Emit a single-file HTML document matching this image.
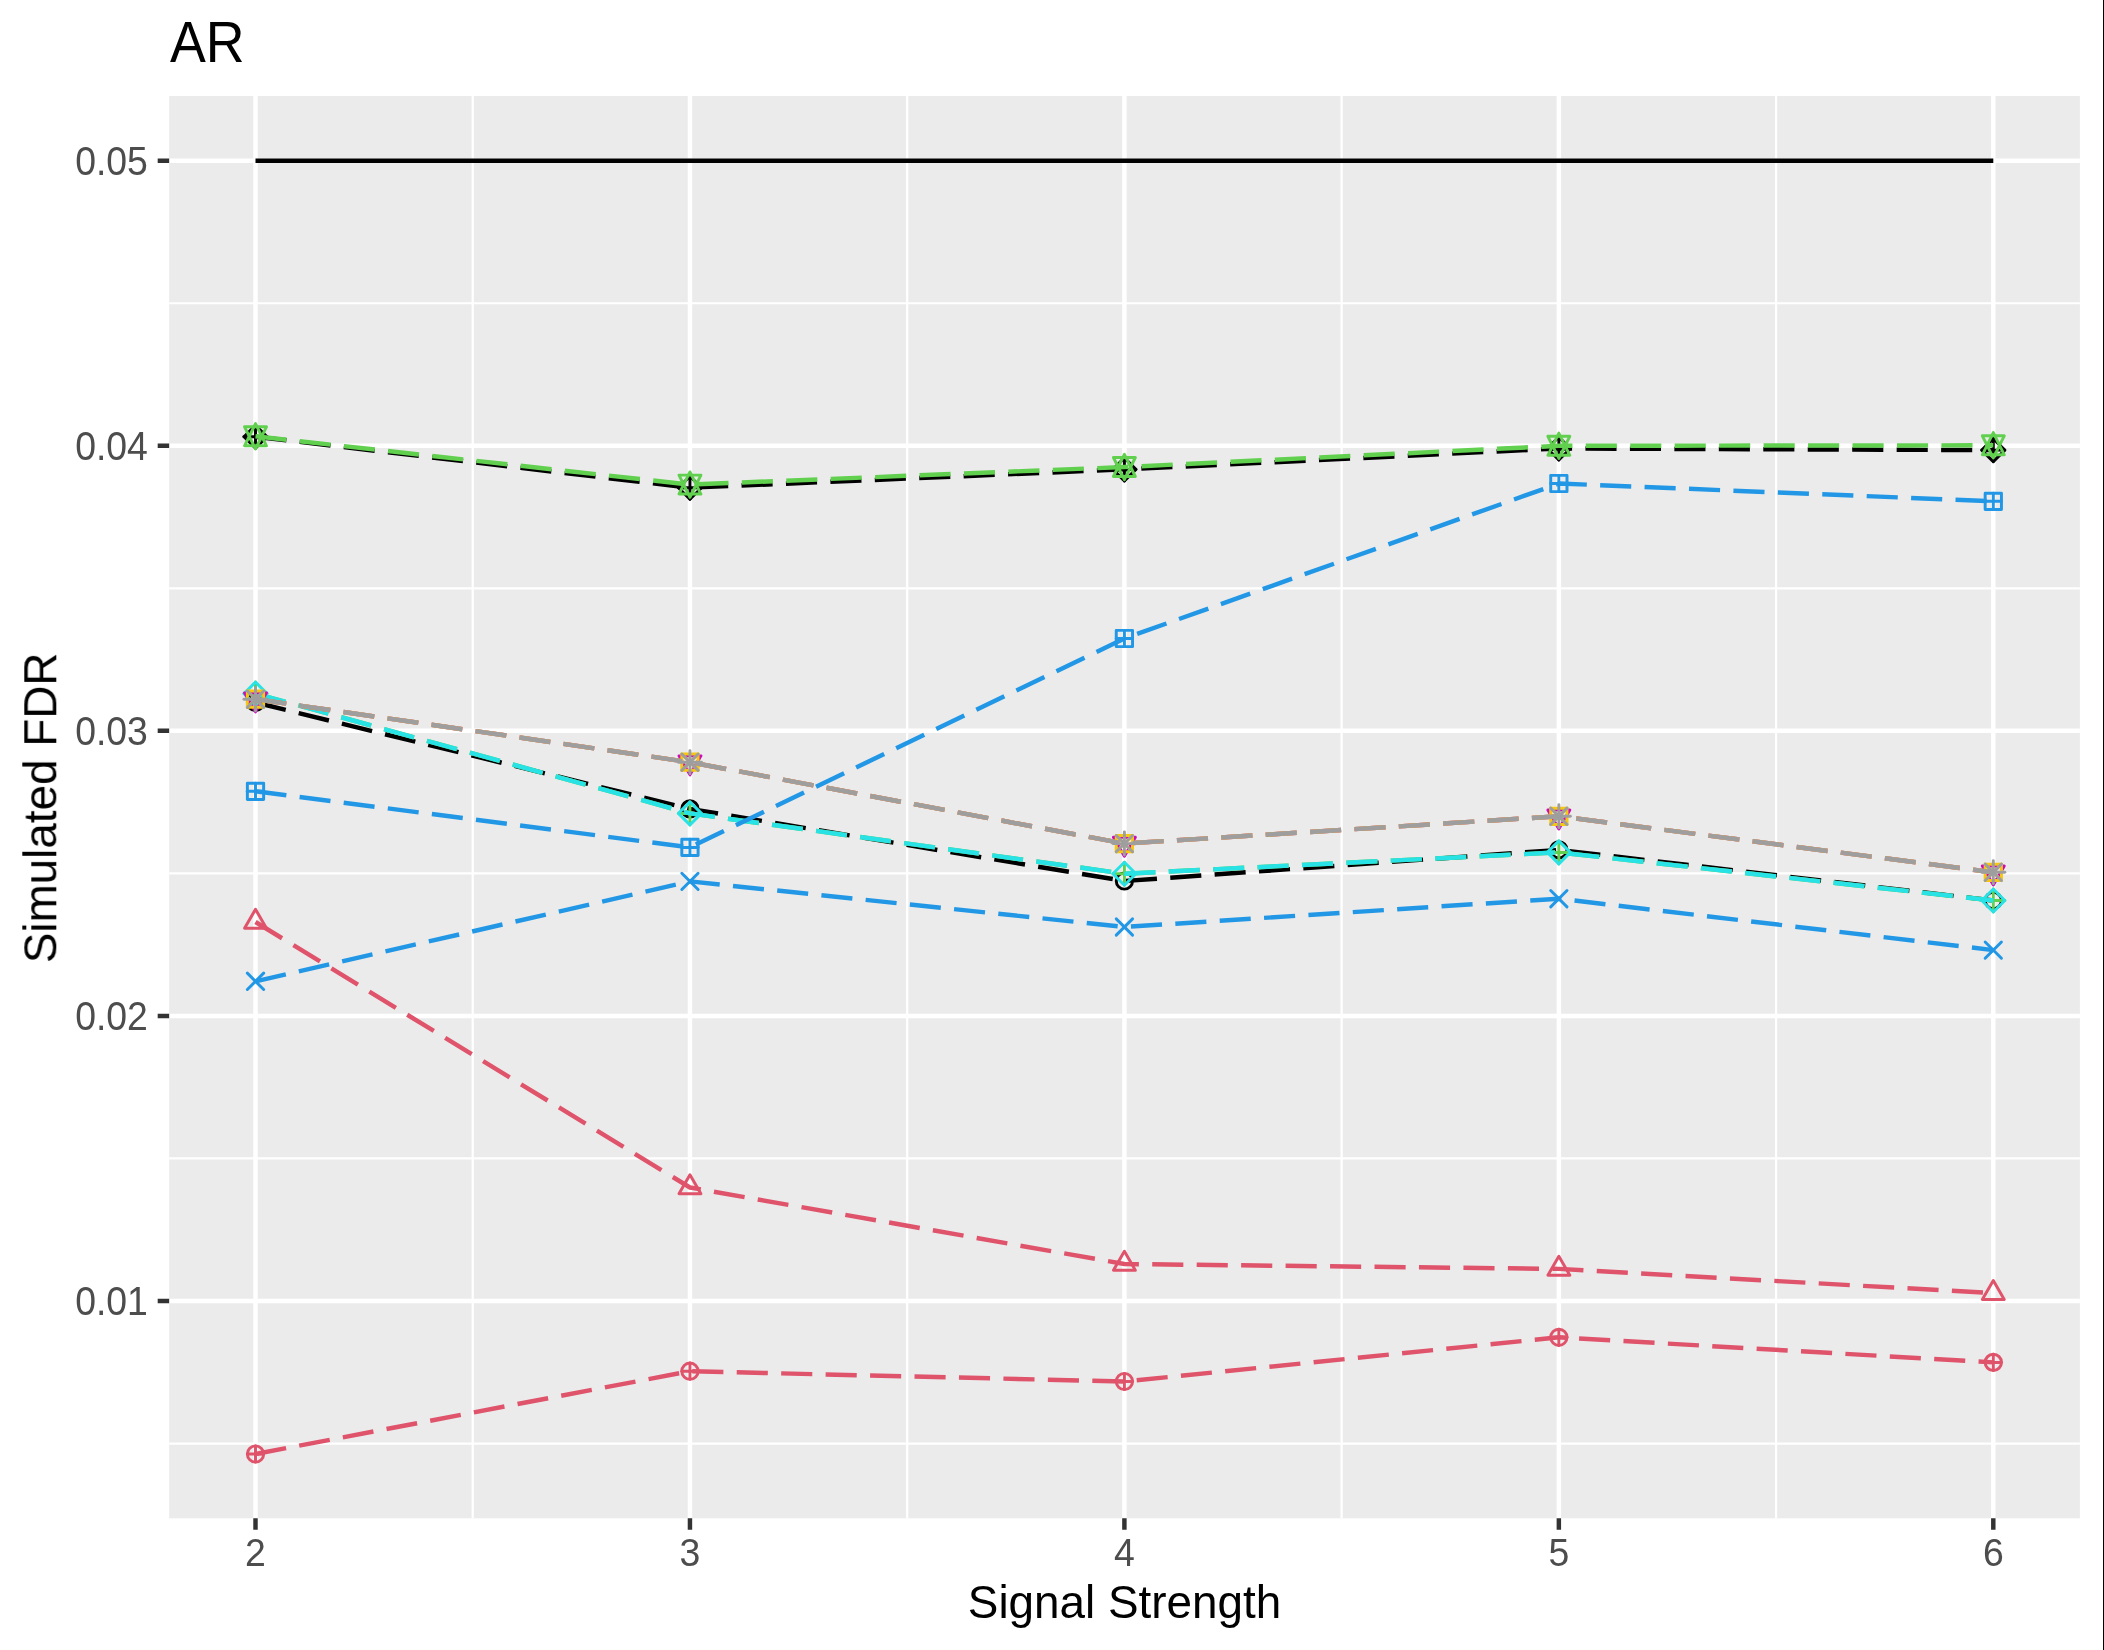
<!DOCTYPE html>
<html><head><meta charset="utf-8"><title>AR</title><style>html,body{margin:0;padding:0;background:#fff}svg{display:block}</style></head><body><svg width="2104" height="1650" viewBox="0 0 2104 1650">
<rect x="0" y="0" width="2104" height="1650" fill="#FFFFFF"/>
<rect x="169.15" y="96" width="1910.75" height="1422.3" fill="#EBEBEB"/>
<path d="M169.15 303.24H2079.9M169.15 588.31H2079.9M169.15 873.38H2079.9M169.15 1158.44H2079.9M169.15 1443.52H2079.9M472.73 96V1518.3M907.18 96V1518.3M1341.62 96V1518.3M1776.07 96V1518.3" stroke="#FFFFFF" stroke-width="2.22" fill="none"/>
<path d="M169.15 160.7H2079.9M169.15 445.77H2079.9M169.15 730.84H2079.9M169.15 1015.91H2079.9M169.15 1300.98H2079.9M255.5 96V1518.3M689.95 96V1518.3M1124.4 96V1518.3M1558.85 96V1518.3M1993.3 96V1518.3" stroke="#FFFFFF" stroke-width="4.45" fill="none"/>
<polyline points="255.5,702.5 689.95,808.9 1124.4,881 1558.85,849.9 1993.3,900.5" fill="none" stroke="#000000" stroke-width="4.45" stroke-dasharray="31.12 13.34" stroke-linejoin="round"/>
<circle cx="255.5" cy="702.5" r="8.14" fill="none" stroke="#000000" stroke-width="2.95" stroke-linecap="round" stroke-linejoin="round"/>
<circle cx="689.95" cy="808.9" r="8.14" fill="none" stroke="#000000" stroke-width="2.95" stroke-linecap="round" stroke-linejoin="round"/>
<circle cx="1124.4" cy="881" r="8.14" fill="none" stroke="#000000" stroke-width="2.95" stroke-linecap="round" stroke-linejoin="round"/>
<circle cx="1558.85" cy="849.9" r="8.14" fill="none" stroke="#000000" stroke-width="2.95" stroke-linecap="round" stroke-linejoin="round"/>
<circle cx="1993.3" cy="900.5" r="8.14" fill="none" stroke="#000000" stroke-width="2.95" stroke-linecap="round" stroke-linejoin="round"/>
<polyline points="255.5,922 689.95,1187.5 1124.4,1264 1558.85,1268.9 1993.3,1293.1" fill="none" stroke="#DF536B" stroke-width="4.45" stroke-dasharray="31.12 13.34" stroke-linejoin="round"/>
<path d="M255.5 909.34L266.46 928.33L244.54 928.33Z" fill="none" stroke="#DF536B" stroke-width="2.95" stroke-linecap="round" stroke-linejoin="round"/>
<path d="M689.95 1174.84L700.91 1193.83L678.99 1193.83Z" fill="none" stroke="#DF536B" stroke-width="2.95" stroke-linecap="round" stroke-linejoin="round"/>
<path d="M1124.4 1251.34L1135.36 1270.33L1113.44 1270.33Z" fill="none" stroke="#DF536B" stroke-width="2.95" stroke-linecap="round" stroke-linejoin="round"/>
<path d="M1558.85 1256.24L1569.81 1275.23L1547.89 1275.23Z" fill="none" stroke="#DF536B" stroke-width="2.95" stroke-linecap="round" stroke-linejoin="round"/>
<path d="M1993.3 1280.44L2004.26 1299.43L1982.34 1299.43Z" fill="none" stroke="#DF536B" stroke-width="2.95" stroke-linecap="round" stroke-linejoin="round"/>
<polyline points="255.5,693.6 689.95,813.4 1124.4,873.7 1558.85,852.4 1993.3,900.5" fill="none" stroke="#61D04F" stroke-width="4.45" stroke-dasharray="31.12 13.34" stroke-linejoin="round"/>
<path d="M243.99 693.6L267.01 693.6" fill="none" stroke="#61D04F" stroke-width="2.95" stroke-linecap="round" stroke-linejoin="round"/><path d="M255.5 682.09L255.5 705.11" fill="none" stroke="#61D04F" stroke-width="2.95" stroke-linecap="round" stroke-linejoin="round"/>
<path d="M678.44 813.4L701.46 813.4" fill="none" stroke="#61D04F" stroke-width="2.95" stroke-linecap="round" stroke-linejoin="round"/><path d="M689.95 801.89L689.95 824.91" fill="none" stroke="#61D04F" stroke-width="2.95" stroke-linecap="round" stroke-linejoin="round"/>
<path d="M1112.89 873.7L1135.91 873.7" fill="none" stroke="#61D04F" stroke-width="2.95" stroke-linecap="round" stroke-linejoin="round"/><path d="M1124.4 862.19L1124.4 885.21" fill="none" stroke="#61D04F" stroke-width="2.95" stroke-linecap="round" stroke-linejoin="round"/>
<path d="M1547.34 852.4L1570.36 852.4" fill="none" stroke="#61D04F" stroke-width="2.95" stroke-linecap="round" stroke-linejoin="round"/><path d="M1558.85 840.89L1558.85 863.91" fill="none" stroke="#61D04F" stroke-width="2.95" stroke-linecap="round" stroke-linejoin="round"/>
<path d="M1981.79 900.5L2004.81 900.5" fill="none" stroke="#61D04F" stroke-width="2.95" stroke-linecap="round" stroke-linejoin="round"/><path d="M1993.3 888.99L1993.3 912.01" fill="none" stroke="#61D04F" stroke-width="2.95" stroke-linecap="round" stroke-linejoin="round"/>
<polyline points="255.5,981.3 689.95,881.4 1124.4,927 1558.85,898.7 1993.3,950.1" fill="none" stroke="#2297E6" stroke-width="4.45" stroke-dasharray="31.12 13.34" stroke-linejoin="round"/>
<path d="M247.36 973.16L263.64 989.44" fill="none" stroke="#2297E6" stroke-width="2.95" stroke-linecap="round" stroke-linejoin="round"/><path d="M247.36 989.44L263.64 973.16" fill="none" stroke="#2297E6" stroke-width="2.95" stroke-linecap="round" stroke-linejoin="round"/>
<path d="M681.81 873.26L698.09 889.54" fill="none" stroke="#2297E6" stroke-width="2.95" stroke-linecap="round" stroke-linejoin="round"/><path d="M681.81 889.54L698.09 873.26" fill="none" stroke="#2297E6" stroke-width="2.95" stroke-linecap="round" stroke-linejoin="round"/>
<path d="M1116.26 918.86L1132.54 935.14" fill="none" stroke="#2297E6" stroke-width="2.95" stroke-linecap="round" stroke-linejoin="round"/><path d="M1116.26 935.14L1132.54 918.86" fill="none" stroke="#2297E6" stroke-width="2.95" stroke-linecap="round" stroke-linejoin="round"/>
<path d="M1550.71 890.56L1566.99 906.84" fill="none" stroke="#2297E6" stroke-width="2.95" stroke-linecap="round" stroke-linejoin="round"/><path d="M1550.71 906.84L1566.99 890.56" fill="none" stroke="#2297E6" stroke-width="2.95" stroke-linecap="round" stroke-linejoin="round"/>
<path d="M1985.16 941.96L2001.44 958.24" fill="none" stroke="#2297E6" stroke-width="2.95" stroke-linecap="round" stroke-linejoin="round"/><path d="M1985.16 958.24L2001.44 941.96" fill="none" stroke="#2297E6" stroke-width="2.95" stroke-linecap="round" stroke-linejoin="round"/>
<polyline points="255.5,693.6 689.95,813.4 1124.4,873.7 1558.85,852.4 1993.3,900.5" fill="none" stroke="#28E2E5" stroke-width="4.45" stroke-dasharray="31.12 13.34" stroke-linejoin="round"/>
<path d="M243.99 693.6L255.5 682.09L267.01 693.6L255.5 705.11Z" fill="none" stroke="#28E2E5" stroke-width="2.95" stroke-linecap="round" stroke-linejoin="round"/>
<path d="M678.44 813.4L689.95 801.89L701.46 813.4L689.95 824.91Z" fill="none" stroke="#28E2E5" stroke-width="2.95" stroke-linecap="round" stroke-linejoin="round"/>
<path d="M1112.89 873.7L1124.4 862.19L1135.91 873.7L1124.4 885.21Z" fill="none" stroke="#28E2E5" stroke-width="2.95" stroke-linecap="round" stroke-linejoin="round"/>
<path d="M1547.34 852.4L1558.85 840.89L1570.36 852.4L1558.85 863.91Z" fill="none" stroke="#28E2E5" stroke-width="2.95" stroke-linecap="round" stroke-linejoin="round"/>
<path d="M1981.79 900.5L1993.3 888.99L2004.81 900.5L1993.3 912.01Z" fill="none" stroke="#28E2E5" stroke-width="2.95" stroke-linecap="round" stroke-linejoin="round"/>
<polyline points="255.5,699.2 689.95,762.2 1124.4,843.6 1558.85,816.3 1993.3,872.3" fill="none" stroke="#CD0BBC" stroke-width="4.45" stroke-dasharray="31.12 13.34" stroke-linejoin="round"/>
<path d="M255.5 711.86L266.46 692.87L244.54 692.87Z" fill="none" stroke="#CD0BBC" stroke-width="2.95" stroke-linecap="round" stroke-linejoin="round"/>
<path d="M689.95 774.86L700.91 755.87L678.99 755.87Z" fill="none" stroke="#CD0BBC" stroke-width="2.95" stroke-linecap="round" stroke-linejoin="round"/>
<path d="M1124.4 856.26L1135.36 837.27L1113.44 837.27Z" fill="none" stroke="#CD0BBC" stroke-width="2.95" stroke-linecap="round" stroke-linejoin="round"/>
<path d="M1558.85 828.96L1569.81 809.97L1547.89 809.97Z" fill="none" stroke="#CD0BBC" stroke-width="2.95" stroke-linecap="round" stroke-linejoin="round"/>
<path d="M1993.3 884.96L2004.26 865.97L1982.34 865.97Z" fill="none" stroke="#CD0BBC" stroke-width="2.95" stroke-linecap="round" stroke-linejoin="round"/>
<polyline points="255.5,699.2 689.95,762.2 1124.4,843.6 1558.85,816.3 1993.3,872.3" fill="none" stroke="#F5C710" stroke-width="4.45" stroke-dasharray="31.12 13.34" stroke-linejoin="round"/>
<path d="M247.36 691.06L263.64 707.34" fill="none" stroke="#F5C710" stroke-width="2.95" stroke-linecap="round" stroke-linejoin="round"/><path d="M247.36 707.34L263.64 691.06" fill="none" stroke="#F5C710" stroke-width="2.95" stroke-linecap="round" stroke-linejoin="round"/><path d="M247.36 691.06L263.64 691.06L263.64 707.34L247.36 707.34Z" fill="none" stroke="#F5C710" stroke-width="2.95" stroke-linecap="round" stroke-linejoin="round"/>
<path d="M681.81 754.06L698.09 770.34" fill="none" stroke="#F5C710" stroke-width="2.95" stroke-linecap="round" stroke-linejoin="round"/><path d="M681.81 770.34L698.09 754.06" fill="none" stroke="#F5C710" stroke-width="2.95" stroke-linecap="round" stroke-linejoin="round"/><path d="M681.81 754.06L698.09 754.06L698.09 770.34L681.81 770.34Z" fill="none" stroke="#F5C710" stroke-width="2.95" stroke-linecap="round" stroke-linejoin="round"/>
<path d="M1116.26 835.46L1132.54 851.74" fill="none" stroke="#F5C710" stroke-width="2.95" stroke-linecap="round" stroke-linejoin="round"/><path d="M1116.26 851.74L1132.54 835.46" fill="none" stroke="#F5C710" stroke-width="2.95" stroke-linecap="round" stroke-linejoin="round"/><path d="M1116.26 835.46L1132.54 835.46L1132.54 851.74L1116.26 851.74Z" fill="none" stroke="#F5C710" stroke-width="2.95" stroke-linecap="round" stroke-linejoin="round"/>
<path d="M1550.71 808.16L1566.99 824.44" fill="none" stroke="#F5C710" stroke-width="2.95" stroke-linecap="round" stroke-linejoin="round"/><path d="M1550.71 824.44L1566.99 808.16" fill="none" stroke="#F5C710" stroke-width="2.95" stroke-linecap="round" stroke-linejoin="round"/><path d="M1550.71 808.16L1566.99 808.16L1566.99 824.44L1550.71 824.44Z" fill="none" stroke="#F5C710" stroke-width="2.95" stroke-linecap="round" stroke-linejoin="round"/>
<path d="M1985.16 864.16L2001.44 880.44" fill="none" stroke="#F5C710" stroke-width="2.95" stroke-linecap="round" stroke-linejoin="round"/><path d="M1985.16 880.44L2001.44 864.16" fill="none" stroke="#F5C710" stroke-width="2.95" stroke-linecap="round" stroke-linejoin="round"/><path d="M1985.16 864.16L2001.44 864.16L2001.44 880.44L1985.16 880.44Z" fill="none" stroke="#F5C710" stroke-width="2.95" stroke-linecap="round" stroke-linejoin="round"/>
<polyline points="255.5,699.2 689.95,762.2 1124.4,843.6 1558.85,816.3 1993.3,872.3" fill="none" stroke="#9E9E9E" stroke-width="4.45" stroke-dasharray="31.12 13.34" stroke-linejoin="round"/>
<path d="M247.36 691.06L263.64 707.34" fill="none" stroke="#9E9E9E" stroke-width="2.95" stroke-linecap="round" stroke-linejoin="round"/><path d="M247.36 707.34L263.64 691.06" fill="none" stroke="#9E9E9E" stroke-width="2.95" stroke-linecap="round" stroke-linejoin="round"/><path d="M243.99 699.2L267.01 699.2" fill="none" stroke="#9E9E9E" stroke-width="2.95" stroke-linecap="round" stroke-linejoin="round"/><path d="M255.5 687.69L255.5 710.71" fill="none" stroke="#9E9E9E" stroke-width="2.95" stroke-linecap="round" stroke-linejoin="round"/>
<path d="M681.81 754.06L698.09 770.34" fill="none" stroke="#9E9E9E" stroke-width="2.95" stroke-linecap="round" stroke-linejoin="round"/><path d="M681.81 770.34L698.09 754.06" fill="none" stroke="#9E9E9E" stroke-width="2.95" stroke-linecap="round" stroke-linejoin="round"/><path d="M678.44 762.2L701.46 762.2" fill="none" stroke="#9E9E9E" stroke-width="2.95" stroke-linecap="round" stroke-linejoin="round"/><path d="M689.95 750.69L689.95 773.71" fill="none" stroke="#9E9E9E" stroke-width="2.95" stroke-linecap="round" stroke-linejoin="round"/>
<path d="M1116.26 835.46L1132.54 851.74" fill="none" stroke="#9E9E9E" stroke-width="2.95" stroke-linecap="round" stroke-linejoin="round"/><path d="M1116.26 851.74L1132.54 835.46" fill="none" stroke="#9E9E9E" stroke-width="2.95" stroke-linecap="round" stroke-linejoin="round"/><path d="M1112.89 843.6L1135.91 843.6" fill="none" stroke="#9E9E9E" stroke-width="2.95" stroke-linecap="round" stroke-linejoin="round"/><path d="M1124.4 832.09L1124.4 855.11" fill="none" stroke="#9E9E9E" stroke-width="2.95" stroke-linecap="round" stroke-linejoin="round"/>
<path d="M1550.71 808.16L1566.99 824.44" fill="none" stroke="#9E9E9E" stroke-width="2.95" stroke-linecap="round" stroke-linejoin="round"/><path d="M1550.71 824.44L1566.99 808.16" fill="none" stroke="#9E9E9E" stroke-width="2.95" stroke-linecap="round" stroke-linejoin="round"/><path d="M1547.34 816.3L1570.36 816.3" fill="none" stroke="#9E9E9E" stroke-width="2.95" stroke-linecap="round" stroke-linejoin="round"/><path d="M1558.85 804.79L1558.85 827.81" fill="none" stroke="#9E9E9E" stroke-width="2.95" stroke-linecap="round" stroke-linejoin="round"/>
<path d="M1985.16 864.16L2001.44 880.44" fill="none" stroke="#9E9E9E" stroke-width="2.95" stroke-linecap="round" stroke-linejoin="round"/><path d="M1985.16 880.44L2001.44 864.16" fill="none" stroke="#9E9E9E" stroke-width="2.95" stroke-linecap="round" stroke-linejoin="round"/><path d="M1981.79 872.3L2004.81 872.3" fill="none" stroke="#9E9E9E" stroke-width="2.95" stroke-linecap="round" stroke-linejoin="round"/><path d="M1993.3 860.79L1993.3 883.81" fill="none" stroke="#9E9E9E" stroke-width="2.95" stroke-linecap="round" stroke-linejoin="round"/>
<polyline points="255.5,436.7 689.95,487.7 1124.4,469.4 1558.85,448.5 1993.3,450.1" fill="none" stroke="#000000" stroke-width="4.45" stroke-dasharray="31.12 13.34" stroke-linejoin="round"/>
<path d="M243.99 436.7L267.01 436.7" fill="none" stroke="#000000" stroke-width="2.95" stroke-linecap="round" stroke-linejoin="round"/><path d="M255.5 425.19L255.5 448.21" fill="none" stroke="#000000" stroke-width="2.95" stroke-linecap="round" stroke-linejoin="round"/><path d="M243.99 436.7L255.5 425.19L267.01 436.7L255.5 448.21Z" fill="none" stroke="#000000" stroke-width="2.95" stroke-linecap="round" stroke-linejoin="round"/>
<path d="M678.44 487.7L701.46 487.7" fill="none" stroke="#000000" stroke-width="2.95" stroke-linecap="round" stroke-linejoin="round"/><path d="M689.95 476.19L689.95 499.21" fill="none" stroke="#000000" stroke-width="2.95" stroke-linecap="round" stroke-linejoin="round"/><path d="M678.44 487.7L689.95 476.19L701.46 487.7L689.95 499.21Z" fill="none" stroke="#000000" stroke-width="2.95" stroke-linecap="round" stroke-linejoin="round"/>
<path d="M1112.89 469.4L1135.91 469.4" fill="none" stroke="#000000" stroke-width="2.95" stroke-linecap="round" stroke-linejoin="round"/><path d="M1124.4 457.89L1124.4 480.91" fill="none" stroke="#000000" stroke-width="2.95" stroke-linecap="round" stroke-linejoin="round"/><path d="M1112.89 469.4L1124.4 457.89L1135.91 469.4L1124.4 480.91Z" fill="none" stroke="#000000" stroke-width="2.95" stroke-linecap="round" stroke-linejoin="round"/>
<path d="M1547.34 448.5L1570.36 448.5" fill="none" stroke="#000000" stroke-width="2.95" stroke-linecap="round" stroke-linejoin="round"/><path d="M1558.85 436.99L1558.85 460.01" fill="none" stroke="#000000" stroke-width="2.95" stroke-linecap="round" stroke-linejoin="round"/><path d="M1547.34 448.5L1558.85 436.99L1570.36 448.5L1558.85 460.01Z" fill="none" stroke="#000000" stroke-width="2.95" stroke-linecap="round" stroke-linejoin="round"/>
<path d="M1981.79 450.1L2004.81 450.1" fill="none" stroke="#000000" stroke-width="2.95" stroke-linecap="round" stroke-linejoin="round"/><path d="M1993.3 438.59L1993.3 461.61" fill="none" stroke="#000000" stroke-width="2.95" stroke-linecap="round" stroke-linejoin="round"/><path d="M1981.79 450.1L1993.3 438.59L2004.81 450.1L1993.3 461.61Z" fill="none" stroke="#000000" stroke-width="2.95" stroke-linecap="round" stroke-linejoin="round"/>
<polyline points="255.5,1454 689.95,1371.2 1124.4,1381.5 1558.85,1337.3 1993.3,1362.4" fill="none" stroke="#DF536B" stroke-width="4.45" stroke-dasharray="31.12 13.34" stroke-linejoin="round"/>
<circle cx="255.5" cy="1454" r="8.14" fill="none" stroke="#DF536B" stroke-width="2.95" stroke-linecap="round" stroke-linejoin="round"/><path d="M247.36 1454L263.64 1454" fill="none" stroke="#DF536B" stroke-width="2.95" stroke-linecap="round" stroke-linejoin="round"/><path d="M255.5 1445.86L255.5 1462.14" fill="none" stroke="#DF536B" stroke-width="2.95" stroke-linecap="round" stroke-linejoin="round"/>
<circle cx="689.95" cy="1371.2" r="8.14" fill="none" stroke="#DF536B" stroke-width="2.95" stroke-linecap="round" stroke-linejoin="round"/><path d="M681.81 1371.2L698.09 1371.2" fill="none" stroke="#DF536B" stroke-width="2.95" stroke-linecap="round" stroke-linejoin="round"/><path d="M689.95 1363.06L689.95 1379.34" fill="none" stroke="#DF536B" stroke-width="2.95" stroke-linecap="round" stroke-linejoin="round"/>
<circle cx="1124.4" cy="1381.5" r="8.14" fill="none" stroke="#DF536B" stroke-width="2.95" stroke-linecap="round" stroke-linejoin="round"/><path d="M1116.26 1381.5L1132.54 1381.5" fill="none" stroke="#DF536B" stroke-width="2.95" stroke-linecap="round" stroke-linejoin="round"/><path d="M1124.4 1373.36L1124.4 1389.64" fill="none" stroke="#DF536B" stroke-width="2.95" stroke-linecap="round" stroke-linejoin="round"/>
<circle cx="1558.85" cy="1337.3" r="8.14" fill="none" stroke="#DF536B" stroke-width="2.95" stroke-linecap="round" stroke-linejoin="round"/><path d="M1550.71 1337.3L1566.99 1337.3" fill="none" stroke="#DF536B" stroke-width="2.95" stroke-linecap="round" stroke-linejoin="round"/><path d="M1558.85 1329.16L1558.85 1345.44" fill="none" stroke="#DF536B" stroke-width="2.95" stroke-linecap="round" stroke-linejoin="round"/>
<circle cx="1993.3" cy="1362.4" r="8.14" fill="none" stroke="#DF536B" stroke-width="2.95" stroke-linecap="round" stroke-linejoin="round"/><path d="M1985.16 1362.4L2001.44 1362.4" fill="none" stroke="#DF536B" stroke-width="2.95" stroke-linecap="round" stroke-linejoin="round"/><path d="M1993.3 1354.26L1993.3 1370.54" fill="none" stroke="#DF536B" stroke-width="2.95" stroke-linecap="round" stroke-linejoin="round"/>
<polyline points="255.5,436.3 689.95,484.6 1124.4,467 1558.85,445.8 1993.3,445.3" fill="none" stroke="#61D04F" stroke-width="4.45" stroke-dasharray="31.12 13.34" stroke-linejoin="round"/>
<path d="M255.5 423.64L266.46 445.79L244.54 445.79Z" fill="none" stroke="#61D04F" stroke-width="2.95" stroke-linecap="round" stroke-linejoin="round"/><path d="M255.5 448.96L266.46 426.81L244.54 426.81Z" fill="none" stroke="#61D04F" stroke-width="2.95" stroke-linecap="round" stroke-linejoin="round"/>
<path d="M689.95 471.94L700.91 494.09L678.99 494.09Z" fill="none" stroke="#61D04F" stroke-width="2.95" stroke-linecap="round" stroke-linejoin="round"/><path d="M689.95 497.26L700.91 475.11L678.99 475.11Z" fill="none" stroke="#61D04F" stroke-width="2.95" stroke-linecap="round" stroke-linejoin="round"/>
<path d="M1124.4 454.34L1135.36 476.49L1113.44 476.49Z" fill="none" stroke="#61D04F" stroke-width="2.95" stroke-linecap="round" stroke-linejoin="round"/><path d="M1124.4 479.66L1135.36 457.51L1113.44 457.51Z" fill="none" stroke="#61D04F" stroke-width="2.95" stroke-linecap="round" stroke-linejoin="round"/>
<path d="M1558.85 433.14L1569.81 455.29L1547.89 455.29Z" fill="none" stroke="#61D04F" stroke-width="2.95" stroke-linecap="round" stroke-linejoin="round"/><path d="M1558.85 458.46L1569.81 436.31L1547.89 436.31Z" fill="none" stroke="#61D04F" stroke-width="2.95" stroke-linecap="round" stroke-linejoin="round"/>
<path d="M1993.3 432.64L2004.26 454.79L1982.34 454.79Z" fill="none" stroke="#61D04F" stroke-width="2.95" stroke-linecap="round" stroke-linejoin="round"/><path d="M1993.3 457.96L2004.26 435.81L1982.34 435.81Z" fill="none" stroke="#61D04F" stroke-width="2.95" stroke-linecap="round" stroke-linejoin="round"/>
<polyline points="255.5,791.3 689.95,847.4 1124.4,638.5 1558.85,483.5 1993.3,501.3" fill="none" stroke="#2297E6" stroke-width="4.45" stroke-dasharray="31.12 13.34" stroke-linejoin="round"/>
<path d="M247.36 791.3L263.64 791.3" fill="none" stroke="#2297E6" stroke-width="2.95" stroke-linecap="round" stroke-linejoin="round"/><path d="M255.5 783.16L255.5 799.44" fill="none" stroke="#2297E6" stroke-width="2.95" stroke-linecap="round" stroke-linejoin="round"/><path d="M247.36 783.16L263.64 783.16L263.64 799.44L247.36 799.44Z" fill="none" stroke="#2297E6" stroke-width="2.95" stroke-linecap="round" stroke-linejoin="round"/>
<path d="M681.81 847.4L698.09 847.4" fill="none" stroke="#2297E6" stroke-width="2.95" stroke-linecap="round" stroke-linejoin="round"/><path d="M689.95 839.26L689.95 855.54" fill="none" stroke="#2297E6" stroke-width="2.95" stroke-linecap="round" stroke-linejoin="round"/><path d="M681.81 839.26L698.09 839.26L698.09 855.54L681.81 855.54Z" fill="none" stroke="#2297E6" stroke-width="2.95" stroke-linecap="round" stroke-linejoin="round"/>
<path d="M1116.26 638.5L1132.54 638.5" fill="none" stroke="#2297E6" stroke-width="2.95" stroke-linecap="round" stroke-linejoin="round"/><path d="M1124.4 630.36L1124.4 646.64" fill="none" stroke="#2297E6" stroke-width="2.95" stroke-linecap="round" stroke-linejoin="round"/><path d="M1116.26 630.36L1132.54 630.36L1132.54 646.64L1116.26 646.64Z" fill="none" stroke="#2297E6" stroke-width="2.95" stroke-linecap="round" stroke-linejoin="round"/>
<path d="M1550.71 483.5L1566.99 483.5" fill="none" stroke="#2297E6" stroke-width="2.95" stroke-linecap="round" stroke-linejoin="round"/><path d="M1558.85 475.36L1558.85 491.64" fill="none" stroke="#2297E6" stroke-width="2.95" stroke-linecap="round" stroke-linejoin="round"/><path d="M1550.71 475.36L1566.99 475.36L1566.99 491.64L1550.71 491.64Z" fill="none" stroke="#2297E6" stroke-width="2.95" stroke-linecap="round" stroke-linejoin="round"/>
<path d="M1985.16 501.3L2001.44 501.3" fill="none" stroke="#2297E6" stroke-width="2.95" stroke-linecap="round" stroke-linejoin="round"/><path d="M1993.3 493.16L1993.3 509.44" fill="none" stroke="#2297E6" stroke-width="2.95" stroke-linecap="round" stroke-linejoin="round"/><path d="M1985.16 493.16L2001.44 493.16L2001.44 509.44L1985.16 509.44Z" fill="none" stroke="#2297E6" stroke-width="2.95" stroke-linecap="round" stroke-linejoin="round"/>
<path d="M255.5 160.7H1993.3" stroke="#000000" stroke-width="4.45" fill="none"/>
<path d="M157.69 160.7H169.15M157.69 445.77H169.15M157.69 730.84H169.15M157.69 1015.91H169.15M157.69 1300.98H169.15M255.5 1518.3V1529.76M689.95 1518.3V1529.76M1124.4 1518.3V1529.76M1558.85 1518.3V1529.76M1993.3 1518.3V1529.76" stroke="#333333" stroke-width="4.45" fill="none"/>
<g opacity="0.999">
<text transform="translate(147.9,174.6) scale(1,1.08)" font-family="Liberation Sans, sans-serif" font-size="37.4" fill="#4D4D4D" text-anchor="end">0.05</text>
<text transform="translate(147.9,459.67) scale(1,1.08)" font-family="Liberation Sans, sans-serif" font-size="37.4" fill="#4D4D4D" text-anchor="end">0.04</text>
<text transform="translate(147.9,744.74) scale(1,1.08)" font-family="Liberation Sans, sans-serif" font-size="37.4" fill="#4D4D4D" text-anchor="end">0.03</text>
<text transform="translate(147.9,1029.81) scale(1,1.08)" font-family="Liberation Sans, sans-serif" font-size="37.4" fill="#4D4D4D" text-anchor="end">0.02</text>
<text transform="translate(147.9,1314.88) scale(1,1.08)" font-family="Liberation Sans, sans-serif" font-size="37.4" fill="#4D4D4D" text-anchor="end">0.01</text>
<text transform="translate(255.5,1566.0) scale(1,1.03)" font-family="Liberation Sans, sans-serif" font-size="37.4" fill="#4D4D4D" text-anchor="middle">2</text>
<text transform="translate(689.95,1566.0) scale(1,1.03)" font-family="Liberation Sans, sans-serif" font-size="37.4" fill="#4D4D4D" text-anchor="middle">3</text>
<text transform="translate(1124.4,1566.0) scale(1,1.03)" font-family="Liberation Sans, sans-serif" font-size="37.4" fill="#4D4D4D" text-anchor="middle">4</text>
<text transform="translate(1558.85,1566.0) scale(1,1.03)" font-family="Liberation Sans, sans-serif" font-size="37.4" fill="#4D4D4D" text-anchor="middle">5</text>
<text transform="translate(1993.3,1566.0) scale(1,1.03)" font-family="Liberation Sans, sans-serif" font-size="37.4" fill="#4D4D4D" text-anchor="middle">6</text>
<text transform="translate(169.9,62.2) scale(0.977,1.044)" font-family="Liberation Sans, sans-serif" font-size="55" fill="#000000">AR</text>
<text x="1124.5" y="1617.7" font-family="Liberation Sans, sans-serif" font-size="45.83" fill="#000000" text-anchor="middle">Signal Strength</text>
<text transform="translate(56.3,807.9) rotate(-90)" font-family="Liberation Sans, sans-serif" font-size="45.83" fill="#000000" text-anchor="middle">Simulated FDR</text>
</g>
<rect x="2103" y="0" width="1" height="1650" fill="#000000"/>
</svg></body></html>
